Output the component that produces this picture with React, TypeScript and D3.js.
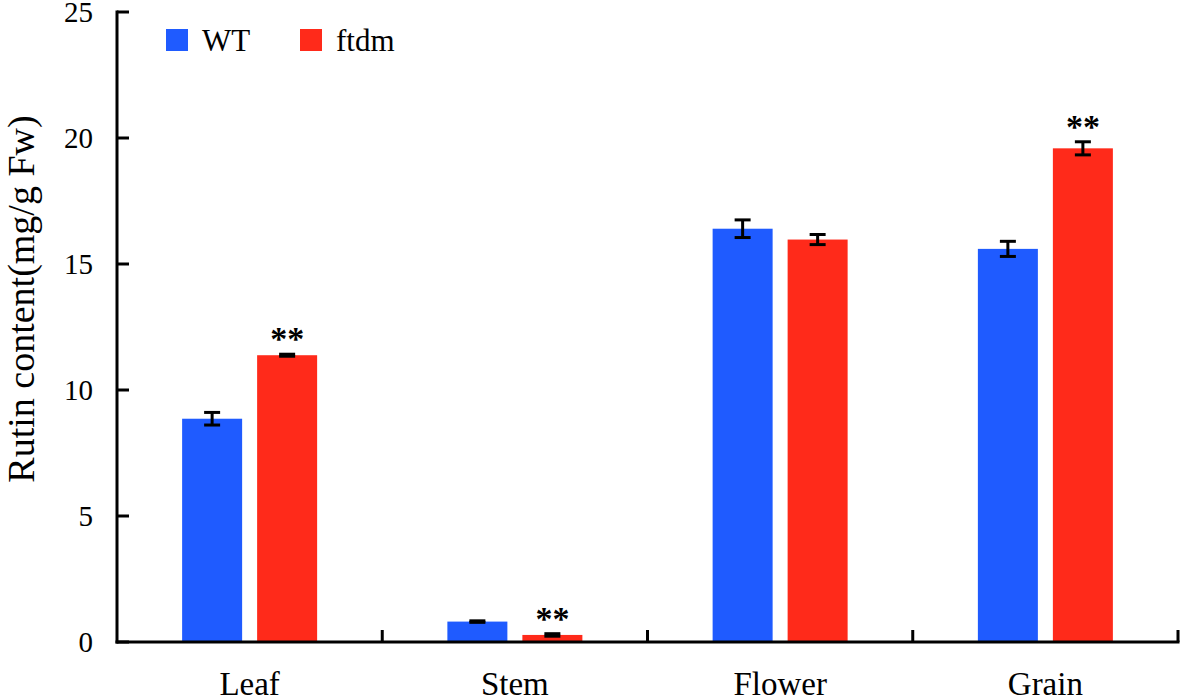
import React from "react";
import * as d3 from "d3";

const categories = ["Leaf", "Stem", "Flower", "Grain"];
const series = ["WT", "ftdm"];
const wtValues = [8.86, 0.81, 16.4, 15.6];
const wtErrors = [0.25, 0.03, 0.35, 0.3];
const ftdmValues = [11.38, 0.28, 15.97, 19.59];
const ftdmErrors = [0.04, 0.05, 0.2, 0.26];
const significant = [true, true, false, true];
const yTicks = [0, 5, 10, 15, 20, 25];
const colors = ["#1F5BFF", "#FF2A1A"];

const W = 1181;
const H = 696;
const FONT = "'Liberation Serif', 'Times New Roman', Times, 'DejaVu Serif', serif";
const txt = { fontFamily: FONT };

export default function App() {
  const y = d3.scaleLinear().domain([0, 25]).range([642, 12]);
  const x0 = d3.scaleBand().domain(categories).range([117, 1178]).paddingInner(0).paddingOuter(0);
  const x1 = d3.scaleBand().domain(series).range([0, 150]).paddingInner(0.2).paddingOuter(0.1);
  const bw = x1.bandwidth();
  const vals = [wtValues, ftdmValues];
  const errs = [wtErrors, ftdmErrors];
  const capHalf = 8;

  return (
    <svg width={W} height={H} style={{ position: "absolute", left: 0, top: 0, background: "#fff" }}>
      {categories.map((c, i) => {
        const start = x0(c)! + x0.bandwidth() / 2 - 75;
        return series.map((s, k) => {
          const v = vals[k][i];
          const e = errs[k][i];
          const bx = start + x1(s)!;
          const cx = bx + bw / 2;
          return (
            <g key={c + s}>
              <rect x={bx} y={y(v)} width={bw} height={y(0) - y(v)} fill={colors[k]} />
              <line x1={cx} x2={cx} y1={y(v + e)} y2={y(v - e)} stroke="#000" strokeWidth={3} />
              <line x1={cx - capHalf} x2={cx + capHalf} y1={y(v + e)} y2={y(v + e)} stroke="#000" strokeWidth={3} />
              <line x1={cx - capHalf} x2={cx + capHalf} y1={y(v - e)} y2={y(v - e)} stroke="#000" strokeWidth={3} />
              {k === 1 && significant[i] && (
                <text x={cx} y={y(v + e) - 4} textAnchor="middle" style={txt} fontWeight="bold" fontSize={34}>
                  **
                </text>
              )}
            </g>
          );
        });
      })}
      <line x1={117} x2={117} y1={10.5} y2={643.5} stroke="#000" strokeWidth={3} />
      {yTicks.map((t) => (
        <g key={t}>
          <line x1={117} x2={129} y1={y(t)} y2={y(t)} stroke="#000" strokeWidth={3} />
          <text x={93} y={y(t)} dy="0.35em" textAnchor="end" style={txt} fontSize={29}>
            {t}
          </text>
        </g>
      ))}
      <line x1={115.5} x2={1179.5} y1={642} y2={642} stroke="#000" strokeWidth={3} />
      {categories.map((c) => {
        const xr = x0(c)! + x0.bandwidth();
        return <line key={"t" + c} x1={xr} x2={xr} y1={642} y2={630} stroke="#000" strokeWidth={3} />;
      })}
      {categories.map((c) => (
        <text key={"l" + c} x={x0(c)! + x0.bandwidth() / 2} y={695} textAnchor="middle" style={txt} fontSize={33}>
          {c}
        </text>
      ))}
      <text transform={`translate(34,299) rotate(-90)`} textAnchor="middle" style={txt} fontSize={38}>
        Rutin content(mg/g Fw)
      </text>
      {series.map((s, k) => (
        <g key={"lg" + s} transform={`translate(${166 + k * 134},29)`}>
          <rect x={0} y={0} width={22} height={22} fill={colors[k]} />
          <text x={36} y={22} style={txt} fontSize={31}>
            {s}
          </text>
        </g>
      ))}
    </svg>
  );
}
